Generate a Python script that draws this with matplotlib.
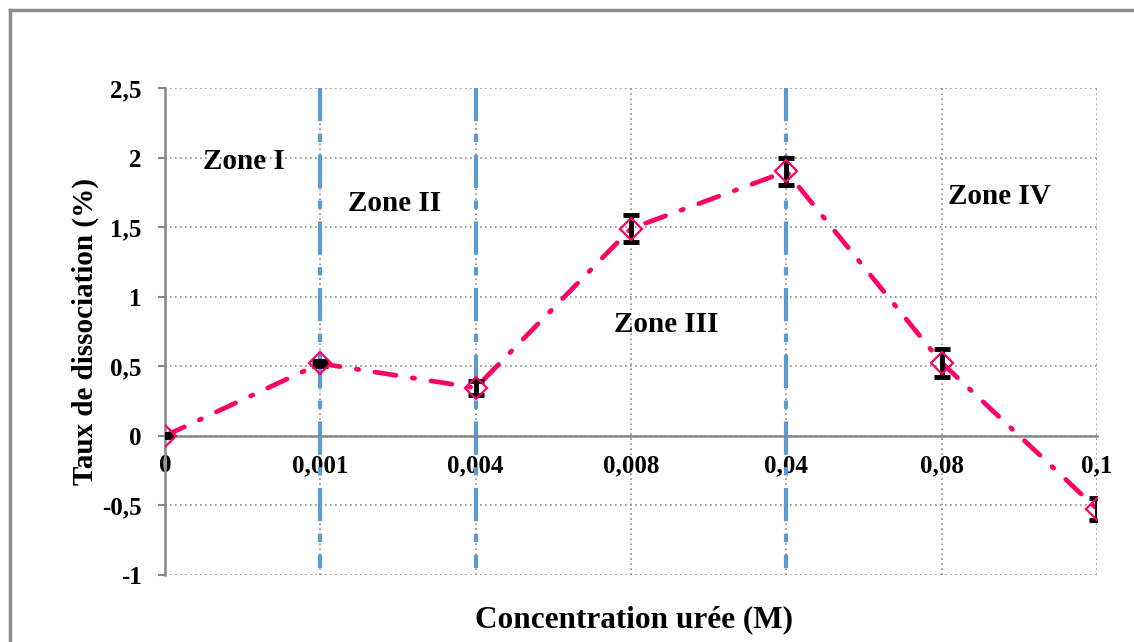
import numpy as np
import matplotlib.pyplot as plt
from matplotlib.lines import Line2D

# data
concentrations = ['0', '0,001', '0,004', '0,008', '0,04', '0,08', '0,1']
taux = [0.0, 0.52, 0.345, 1.49, 1.90, 0.525, -0.525]
erreurs = [0.01, 0.02, 0.05, 0.10, 0.10, 0.10, 0.08]
zone_limits = ['0,001', '0,004', '0,04']
zone_names = ['Zone I', 'Zone II', 'Zone III', 'Zone IV']
zone_pos = [(0.51, 1.97), (1.48, 1.67), (3.23, 0.8), (5.37, 1.72)]

plt.rcParams['font.family'] = ['Liberation Serif', 'DejaVu Serif']
plt.rcParams['font.weight'] = 'bold'

fig = plt.figure(figsize=(11.34, 6.42), dpi=100)
ax = fig.add_axes([0.1455, 0.1044, 0.8219, 0.7585])

x = np.arange(len(concentrations))

# grid
ax.set_xticks(x)
ax.set_yticks(np.arange(-1, 2.51, 0.5))
ax.grid(True, color='#8c8c8c', linestyle=(0, (1, 2)), linewidth=1.2)
ax.set_axisbelow(True)

# zone separators
for z in zone_limits:
    xi = concentrations.index(z)
    ax.plot([xi, xi], [2.5, -0.95], color='#5b9bd5', linewidth=3,
            linestyle=(0, (8, 3, 2, 3)), zorder=2)

ax.errorbar(x, taux, yerr=erreurs, fmt='none', ecolor='black', elinewidth=3.5,
            capsize=6, capthick=3.5, zorder=4)
ax.plot(x, taux, color='#ff0066', linewidth=3.4,
        linestyle=(0, (4.5, 3.5, 0.5, 3.5)), dash_capstyle='round', zorder=3)
ax.plot(x, taux, linestyle='none', marker='D', markersize=11,
        markerfacecolor='none', markeredgecolor='#ff0066', markeredgewidth=1.6, zorder=5)

for name, (zx, zy) in zip(zone_names, zone_pos):
    ax.text(zx, zy, name, ha='center', va='center', fontsize=21, fontweight='bold')

ax.set_xlim(0, 6)
ax.set_ylim(-1, 2.5)

ax.spines['top'].set_visible(False)
ax.spines['right'].set_visible(False)
ax.spines['bottom'].set_position(('data', 0))
ax.spines['bottom'].set_color('#878787')
ax.spines['bottom'].set_linewidth(1.8)
ax.spines['left'].set_color('#878787')
ax.spines['left'].set_linewidth(1.8)

ax.set_xticklabels(concentrations, fontsize=18, fontweight='bold')
ax.set_yticklabels(['-1', '-0,5', '0', '0,5', '1', '1,5', '2', '2,5'],
                   fontsize=18, fontweight='bold')
ax.tick_params(axis='x', length=0, pad=13)
ax.tick_params(axis='y', length=5, width=1.5, color='#878787', direction='out', pad=12)

ax.set_xlabel('Concentration urée (M)', fontsize=22.5, fontweight='bold')
ax.xaxis.set_label_coords(0.503, -0.063)
ax.set_ylabel('Taux de dissociation (%)', fontsize=21, fontweight='bold')
ax.yaxis.set_label_coords(-0.071, 0.5)

# outer frame (top and left edges visible)
fig.add_artist(Line2D([0.0085, 0.0085], [0.0, 0.9845], color='#8c8c8c', linewidth=2.5))
fig.add_artist(Line2D([0.0085, 1.0], [0.9845, 0.9845], color='#8c8c8c', linewidth=2.5))

fig.savefig('out.png', dpi=100)
